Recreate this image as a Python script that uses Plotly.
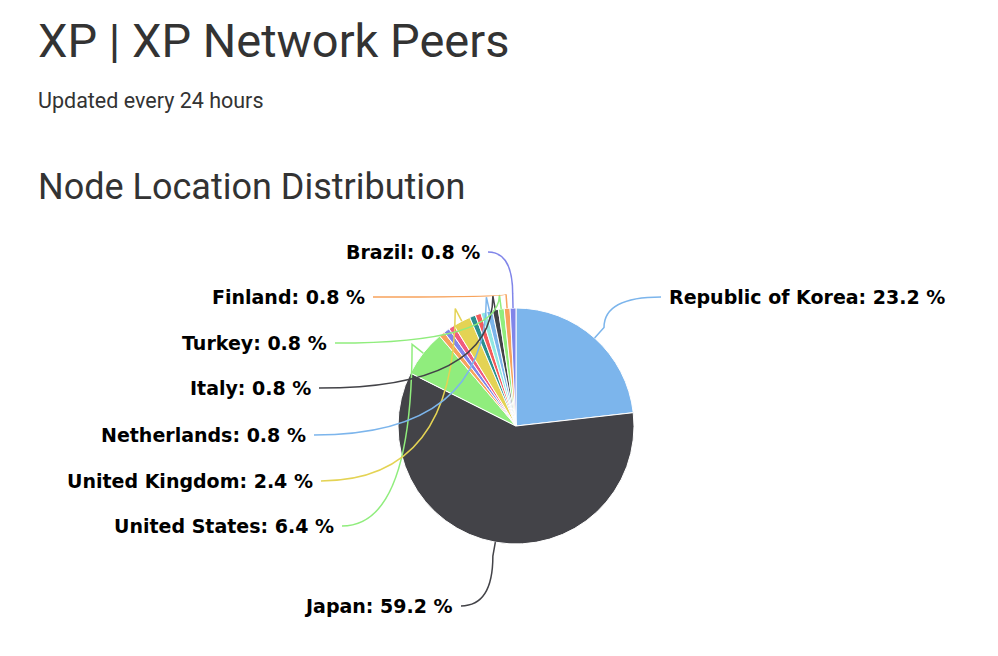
import math
import plotly.graph_objects as go

countries = ["Republic of Korea", "Japan", "United States", "Singapore", "Germany", "France",
             "United Kingdom", "Canada", "Russia", "Hong Kong", "Netherlands", "Italy",
             "Turkey", "Finland", "Brazil"]
shares = [23.2, 59.2, 6.4, 0.8, 0.8, 0.8, 2.4, 0.8, 0.8, 0.8, 0.8, 0.8, 0.8, 0.8, 0.8]
colors = ["#7cb5ec", "#434348", "#90ed7d", "#f7a35c", "#8085e9", "#f15c80", "#e4d354",
          "#2b908f", "#f45b5b", "#91e8e1", "#7cb5ec", "#434348", "#90ed7d", "#f7a35c", "#8085e9"]
label_pos = {
    "Brazil": (482, 251, "l"), "Finland": (367, 296, "l"), "Turkey": (329, 342, "l"),
    "Italy": (313, 387, "l"), "Netherlands": (308, 434, "l"), "United Kingdom": (315, 480, "l"),
    "United States": (336, 525, "l"), "Japan": (455, 605, "l"), "Republic of Korea": (667, 296, "r"),
}

W, H = 998, 656
OX, OY = 8, 7  # page offset of the rendered figure
cx, cy, R = 516, 425, 118

def px(x, y):
    return (x - OX) / W, 1 - (y - OY) / H

d0 = px(cx - R, cy + R); d1 = px(cx + R, cy - R)
fig = go.Figure(go.Pie(
    labels=countries, values=shares, sort=False, direction="clockwise", rotation=0,
    marker=dict(colors=colors, line=dict(color="white", width=1)),
    textinfo="none", hoverinfo="label+percent", showlegend=False,
    domain=dict(x=[d0[0], d1[0]], y=[d0[1], d1[1]]),
))

total = sum(shares)
cum = 0
shapes, anns = [], []
for name, v, c in zip(countries, shares, colors):
    mid = (cum + v / 2) / total * 2 * math.pi
    cum += v
    if name not in label_pos:
        continue
    lx, ly, side = label_pos[name]
    hx, hy = cx + R * math.sin(mid), cy - R * math.cos(mid)
    ex = lx + 6 if side == "l" else lx - 6
    mx = hx + 0.12 * R * math.sin(mid)
    my = hy - 0.12 * R * math.cos(mid)
    x0, y0 = px(hx, hy); x1, y1 = px(mx, my); x2, y2 = px(ex, ly)
    shapes.append(dict(type="path", xref="paper", yref="paper",
                       path=f"M {x0} {y0} L {x1} {y1} Q {x1} {y2} {x2} {y2}",
                       line=dict(color=c, width=1.5)))
    ax, ay = px(lx, ly)
    anns.append(dict(x=ax, y=ay, xref="paper", yref="paper", showarrow=False,
                     xanchor="right" if side == "l" else "left", yanchor="middle",
                     text=f"<b>{name}: {v:.1f} %</b>",
                     font=dict(family="DejaVu Sans", size=19, color="black")))

for txt, y, size in [("XP | XP Network Peers", 40, 47), ("Updated every 24 hours", 100, 21.5),
                     ("Node Location Distribution", 186, 36)]:
    x, yy = px(36, y)
    anns.append(dict(x=x, y=yy, xref="paper", yref="paper", showarrow=False,
                     xanchor="left", yanchor="middle", text=txt,
                     font=dict(family="Roboto", size=size, color="#333")))

fig.update_layout(width=W, height=H, margin=dict(l=0, r=0, t=0, b=0),
                  paper_bgcolor="white", shapes=shapes, annotations=anns)
fig.write_html("out.html")
